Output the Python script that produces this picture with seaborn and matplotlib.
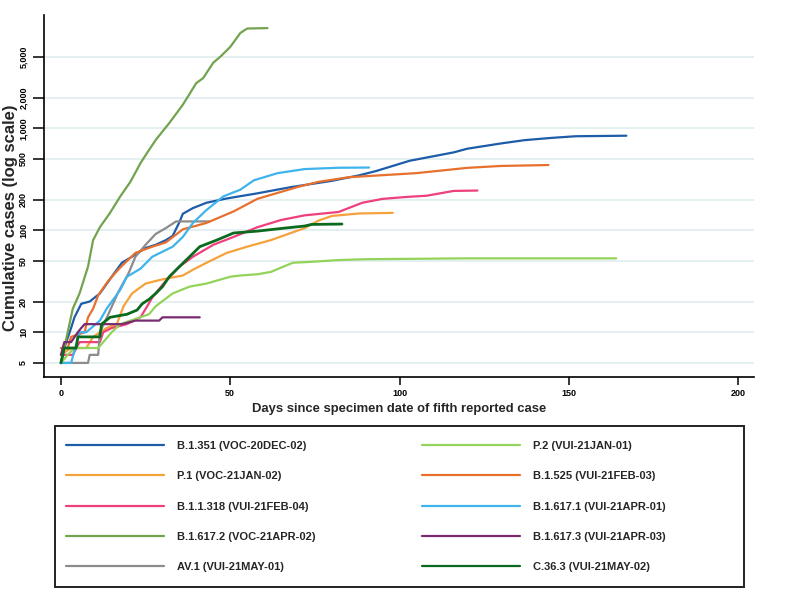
import pandas as pd
import seaborn as sns
import matplotlib.pyplot as plt
from matplotlib.lines import Line2D
from matplotlib.patches import Rectangle
from matplotlib.ticker import FixedLocator, FuncFormatter, NullLocator

# variant order as it appears in the legend (left column first, then right)
variants = [
    'B.1.351 (VOC-20DEC-02)', 'P.1 (VOC-21JAN-02)', 'B.1.1.318 (VUI-21FEB-04)',
    'B.1.617.2 (VOC-21APR-02)', 'AV.1 (VUI-21MAY-01)',
    'P.2 (VUI-21JAN-01)', 'B.1.525 (VUI-21FEB-03)', 'B.1.617.1 (VUI-21APR-01)',
    'B.1.617.3 (VUI-21APR-03)', 'C.36.3 (VUI-21MAY-02)',
]
colours = ['#1d5ca9', '#f5a23a', '#ef3f7c', '#72a34e', '#8c8c8c',
           '#93d35a', '#e8702d', '#3fb3ec', '#792b70', '#0b6a1e']

# cumulative cases, days since 5th case
b1351_days = [0, 1, 3, 4, 6, 8.5, 11.5, 15, 18, 21, 25, 28, 31, 33, 35, 36, 39, 43, 49, 58,
              68, 80, 88, 93, 103, 116, 120, 130, 137, 145, 152, 167]
b1351_cases = [5, 7, 11, 14, 19, 20, 24, 35, 48, 55, 67, 72, 80, 88, 120, 145, 165, 186, 205, 230,
               265, 305, 345, 380, 480, 580, 630, 710, 765, 805, 835, 845]

p1_days = [0, 3, 7.5, 9.5, 13.5, 16.5, 18.5, 21, 25, 30, 36, 39, 43, 49, 55, 62, 72, 76, 80, 88, 98]
p1_cases = [6, 7, 7, 9, 11, 12, 18, 24, 30, 33, 36, 41, 48, 60, 69, 80, 105, 124, 138, 146, 148]

b11318_days = [0, 3.5, 5.5, 11.5, 12.5, 15, 19.5, 23.5, 25.5, 27, 31, 35, 39, 45, 51, 58, 65,
               72, 82, 89, 95, 102, 108, 116, 123]
b11318_cases = [6, 6, 8, 8, 10, 11, 12, 14, 18, 22, 32, 44, 55, 72, 86, 107, 126,
                140, 151, 186, 203, 212, 218, 243, 245]

b16172_days = [0, 2, 3.5, 5.5, 8, 9.5, 11.5, 14.5, 17.5, 20.5, 23.5, 25.5, 28, 32, 36, 40,
               42, 45, 47, 50, 53, 55, 61]
b16172_cases = [5, 10, 17, 24, 44, 80, 107, 148, 214, 298, 455, 577, 768, 1125, 1700, 2780,
                3100, 4400, 5000, 6270, 8600, 9500, 9600]

av1_days = [0, 8, 8.5, 11, 11.5, 14, 17, 20, 22, 25, 28, 31, 34, 44]
av1_cases = [5, 5, 6, 6, 10, 15, 25, 38, 55, 72, 92, 105, 122, 122]

p2_days = [0, 2, 4, 11, 12.5, 15, 17.5, 26, 28, 33, 38, 43, 50, 53, 58, 62, 65, 68.5, 74, 82, 90,
           120, 164]
p2_cases = [5, 6, 7, 7, 8, 10, 12, 15, 18, 24, 28, 30, 35, 36, 37, 39, 43, 48, 49, 51, 52,
            53, 53]

b1525_days = [0, 2, 3, 7, 8, 9.5, 11, 14, 17.5, 22, 27, 31, 36, 43, 51, 58, 70, 76, 85, 105,
              120, 130, 144]
b1525_cases = [7, 7, 9, 10, 14, 17, 23, 32, 43, 60, 69, 76, 102, 118, 153, 203, 266, 298, 331, 363,
               409, 427, 436]

b16171_days = [0, 3, 5.5, 7.5, 11.5, 13.5, 17.5, 19.5, 23.5, 27, 33, 36, 39, 43, 48, 53, 57,
               64, 72, 82, 91]
b16171_cases = [5, 5, 10, 10, 13, 17, 26, 35, 42, 55, 69, 86, 118, 158, 215, 250, 309,
                363, 398, 410, 412]

b16173_days = [0, 1, 3, 5, 6, 7, 18, 22, 29, 30, 41]
b16173_cases = [6, 8, 8, 10, 11, 12, 12, 13, 13, 14, 14]

c363_days = [0, 1, 4.5, 5, 11.5, 12, 14.5, 19.5, 22.5, 24, 26, 28, 30, 32, 35, 38, 41, 46, 51,
             58, 65, 72, 74, 83]
c363_cases = [5, 7, 7, 9, 9, 12, 14, 15, 16.5, 19, 21, 24, 28, 35, 44, 55, 69, 80, 94,
              98, 104, 110, 114, 115]

y_ticks = [5, 10, 20, 50, 100, 200, 500, 1000, 2000, 5000]
x_ticks = [0, 50, 100, 150, 200]


def build_frame() -> pd.DataFrame:
    series = [
        (b1351_days, b1351_cases), (p1_days, p1_cases), (b11318_days, b11318_cases),
        (b16172_days, b16172_cases), (av1_days, av1_cases), (p2_days, p2_cases),
        (b1525_days, b1525_cases), (b16171_days, b16171_cases), (b16173_days, b16173_cases),
        (c363_days, c363_cases),
    ]
    frames = []
    for name, (days, cases) in zip(variants, series):
        frames.append(pd.DataFrame({'day': days, 'cases': cases, 'variant': name}))
    return pd.concat(frames, ignore_index=True)


def plot(df: pd.DataFrame) -> None:
    sns.set_theme(style='ticks')
    plt.rcParams['font.family'] = ['Liberation Sans', 'DejaVu Sans']

    fig = plt.figure(figsize=(8, 6), dpi=100)
    ax = fig.add_axes([0.055, 0.3717, 0.8875, 0.6033])

    for name, colour in zip(variants, colours):
        width = 2.0 if name.startswith('C.36.3') else 1.6
        sns.lineplot(data=df[df['variant'] == name], x='day', y='cases', color=colour,
                     linewidth=width, estimator=None, sort=False, ax=ax)

    ax.set_yscale('log')
    ax.set_ylim(3.64, 12900)
    ax.set_xlim(-5, 204.7)
    ax.yaxis.set_major_locator(FixedLocator(y_ticks))
    ax.yaxis.set_minor_locator(NullLocator())
    ax.yaxis.set_major_formatter(FuncFormatter(lambda v, p: f'{v:,.0f}'))
    ax.set_xticks(x_ticks)
    ax.grid(axis='y', color='#e2eef1', linewidth=1.3)
    ax.set_axisbelow(True)

    sns.despine(ax=ax)
    for side in ['left', 'bottom']:
        ax.spines[side].set_linewidth(1.2)
        ax.spines[side].set_color('black')
    ax.tick_params(axis='x', length=5.5, width=1.1, pad=3.5, labelsize=6.5, colors='black')
    ax.tick_params(axis='y', length=8, width=1.1, pad=3.5, labelsize=6.5, colors='black',
                   labelrotation=90)
    for lab in ax.get_xticklabels() + ax.get_yticklabels():
        lab.set_fontweight('bold')
    for lab in ax.get_yticklabels():
        lab.set_verticalalignment('center')

    ax.set_xlabel('Days since specimen date of fifth reported case', fontsize=9.4, fontweight='bold')
    ax.set_ylabel('Cumulative cases (log scale)', fontsize=12, fontweight='bold')
    ax.xaxis.set_label_coords(0.5, -0.072)
    ax.yaxis.set_label_coords(-0.036, 0.44)

    # legend: two columns inside one hand-drawn frame
    handles = [Line2D([], [], color=c, linewidth=1.6) for c in colours]
    opts = dict(loc='center left', frameon=False, borderpad=0, borderaxespad=0,
                handlelength=8.8, handletextpad=1.17, labelspacing=1.82,
                prop={'weight': 'bold', 'size': 8})
    fig.legend(handles[:5], variants[:5], bbox_to_anchor=(66 / 800, 1 - 506.5 / 600), **opts)
    fig.legend(handles[5:], variants[5:], bbox_to_anchor=(422 / 800, 1 - 506.5 / 600), **opts)
    fig.add_artist(Rectangle((55 / 800, 1 - 587 / 600), 689 / 800, 161 / 600,
                             transform=fig.transFigure, fill=False,
                             edgecolor='#222222', linewidth=1.4))

    fig.savefig('out.png', dpi=100)
    plt.close(fig)


if __name__ == "__main__":
    df = build_frame()
    plot(df)
